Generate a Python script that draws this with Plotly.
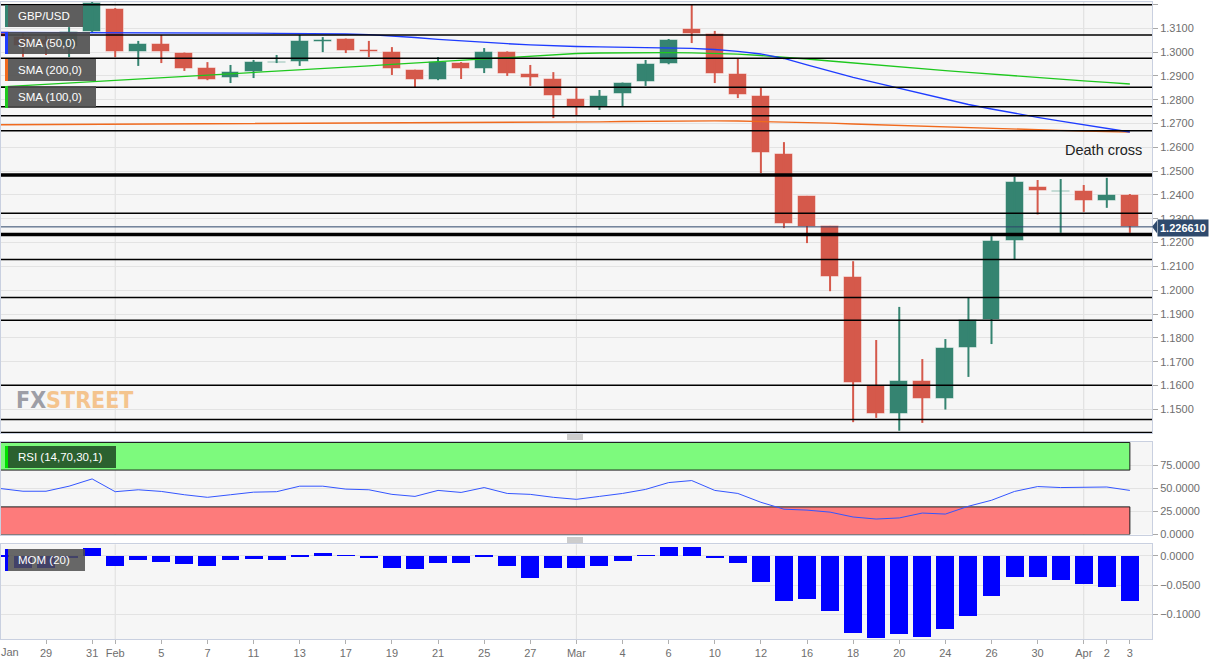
import pandas as pd
import plotly.graph_objects as go
from plotly.subplots import make_subplots

# ---------------- data ----------------
dates = pd.bdate_range("2020-01-27", "2020-04-03")
xi = list(range(len(dates)))

open_ = [1.3085, 1.3063, 1.3051, 1.3021, 1.3084, 1.3181, 1.3000, 1.3034, 1.2996, 1.2933,
         1.2891, 1.2916, 1.2955, 1.2958, 1.3044, 1.3055, 1.3007, 1.3000, 1.2925, 1.2883,
         1.2954, 1.2929, 1.3000, 1.2908, 1.2887, 1.2803, 1.2769, 1.2824, 1.2874, 1.2950,
         1.3097, 1.3076, 1.2908, 1.2816, 1.2571, 1.2395, 1.2269, 1.2055, 1.1598, 1.1482,
         1.1619, 1.1542, 1.1756, 1.1877, 1.2206, 1.2432, 1.2412, 1.2415, 1.2376, 1.2398]
high = [1.3095, 1.3080, 1.3068, 1.3105, 1.3215, 1.3185, 1.3047, 1.3072, 1.2998, 1.2958,
        1.2946, 1.2967, 1.2988, 1.3072, 1.3063, 1.3057, 1.3047, 1.3021, 1.2926, 1.2979,
        1.2958, 1.3017, 1.3003, 1.2946, 1.2916, 1.2849, 1.2841, 1.2872, 1.2967, 1.3055,
        1.3202, 1.3089, 1.2971, 1.2849, 1.2622, 1.2396, 1.2270, 1.2122, 1.1791, 1.1930,
        1.1711, 1.1795, 1.1968, 1.2227, 1.2477, 1.2463, 1.2467, 1.2442, 1.2472, 1.2404]
low = [1.3040, 1.2980, 1.2988, 1.2979, 1.3080, 1.2979, 1.2942, 1.2954, 1.2921, 1.2882,
       1.2870, 1.2891, 1.2954, 1.2942, 1.3000, 1.2996, 1.2979, 1.2904, 1.2853, 1.2882,
       1.2887, 1.2912, 1.2900, 1.2858, 1.2723, 1.2736, 1.2757, 1.2773, 1.2858, 1.2949,
       1.3038, 1.2870, 1.2807, 1.2492, 1.2261, 1.2198, 1.1996, 1.1446, 1.1464, 1.1410,
       1.1443, 1.1499, 1.1636, 1.1774, 1.2131, 1.2318, 1.2241, 1.2329, 1.2346, 1.2241]
close = [1.3064, 1.3026, 1.3030, 1.3084, 1.3205, 1.3000, 1.3034, 1.3000, 1.2929, 1.2883,
         1.2916, 1.2958, 1.2960, 1.3047, 1.3050, 1.3005, 1.3001, 1.2929, 1.2883, 1.2958,
         1.2929, 1.3000, 1.2908, 1.2891, 1.2816, 1.2769, 1.2816, 1.2870, 1.2950, 1.3051,
         1.3076, 1.2908, 1.2820, 1.2576, 1.2277, 1.2265, 1.2055, 1.1610, 1.1482, 1.1619,
         1.1542, 1.1756, 1.1877, 1.2206, 1.2453, 1.2418, 1.2418, 1.2376, 1.2398, 1.22661]

sma50 = [1.30824, 1.30824, 1.30824, 1.30824, 1.30824, 1.30819, 1.30815, 1.30811, 1.30807, 1.30803,
         1.30798, 1.30794, 1.30790, 1.30786, 1.30773, 1.30761, 1.30735, 1.30685, 1.30614, 1.30538,
         1.30467, 1.30404, 1.30353, 1.30307, 1.30265, 1.30236, 1.30219, 1.30210, 1.30202, 1.30190,
         1.30160, 1.30110, 1.30034, 1.29921, 1.29732, 1.29459, 1.29186, 1.28934, 1.28703, 1.28472,
         1.28241, 1.28010, 1.27800, 1.27611, 1.27422, 1.27262, 1.27099, 1.26948, 1.26796, 1.26645]
sma100 = [1.28534, 1.28588, 1.28643, 1.28702, 1.28756, 1.28811, 1.28866, 1.28920, 1.28975, 1.29029,
          1.29084, 1.29139, 1.29193, 1.29248, 1.29307, 1.29366, 1.29424, 1.29483, 1.29542, 1.29601,
          1.29660, 1.29718, 1.29782, 1.29845, 1.29899, 1.29941, 1.29962, 1.29975, 1.29979, 1.29979,
          1.29971, 1.29950, 1.29912, 1.29858, 1.29795, 1.29711, 1.29627, 1.29543, 1.29450, 1.29375,
          1.29299, 1.29224, 1.29148, 1.29072, 1.28997, 1.28930, 1.28862, 1.28795, 1.28728, 1.28661]
sma200 = [1.26948, 1.26952, 1.26956, 1.26960, 1.26964, 1.26968, 1.26973, 1.26977, 1.26981, 1.26985,
          1.26990, 1.26994, 1.26998, 1.27002, 1.27006, 1.27010, 1.27015, 1.27019, 1.27023, 1.27027,
          1.27032, 1.27036, 1.27040, 1.27044, 1.27053, 1.27061, 1.27074, 1.27086, 1.27099, 1.27107,
          1.27116, 1.27116, 1.27107, 1.27090, 1.27069, 1.27044, 1.27015, 1.26981, 1.26948, 1.26914,
          1.26880, 1.26851, 1.26822, 1.26792, 1.26763, 1.26738, 1.26712, 1.26687, 1.26662, 1.26637]

rsi = [50.0, 47.0, 47.0, 52.5, 60.4, 46.5, 48.6, 46.8, 43.2, 40.4,
       43.2, 46.0, 46.5, 52.5, 52.5, 49.3, 48.6, 43.6, 41.4, 47.9,
       45.7, 51.0, 44.6, 43.6, 40.4, 38.2, 41.4, 44.6, 49.0, 56.4,
       58.6, 47.9, 44.6, 35.0, 27.5, 26.5, 24.3, 19.0, 16.8, 18.0,
       23.3, 22.2, 30.7, 37.2, 46.8, 52.1, 51.0, 51.0, 51.6, 47.9]
rsi_upper = 70
rsi_lower = 30

mom = [-0.0010, -0.0220, -0.0220, -0.0040, 0.0133, -0.0170, -0.0080, -0.0110, -0.0140, -0.0170,
       -0.0070, -0.0060, -0.0080, -0.0030, 0.0045, -0.0005, -0.0045, -0.0210, -0.0230, -0.0120,
       -0.0120, -0.0020, -0.0170, -0.0380, -0.0220, -0.0210, -0.0170, -0.0100, -0.0005, 0.0155,
       0.0155, -0.0035, -0.0120, -0.0450, -0.0780, -0.0740, -0.0950, -0.1333, -0.1410, -0.1356,
       -0.1397, -0.1260, -0.1034, -0.0690, -0.0360, -0.0360, -0.0410, -0.0480, -0.0546, -0.0787]

levels_thin = [1.3199, 1.3072, 1.2974, 1.2852, 1.2771, 1.2733, 1.2670, 1.2323,
               1.2129, 1.1970, 1.1874, 1.1601, 1.1457, 1.1403]
levels_thick = [1.2484, 1.2234]

tick_dates = ["2020-01-29", "2020-01-31", "2020-02-03", "2020-02-05", "2020-02-07", "2020-02-11",
              "2020-02-13", "2020-02-17", "2020-02-19", "2020-02-21", "2020-02-25", "2020-02-27",
              "2020-03-02", "2020-03-04", "2020-03-06", "2020-03-10", "2020-03-12", "2020-03-16",
              "2020-03-18", "2020-03-20", "2020-03-24", "2020-03-26", "2020-03-30", "2020-04-01",
              "2020-04-02", "2020-04-03"]
tick_text = ["29", "31", "Feb", "5", "7", "11", "13", "17", "19", "21", "25", "27",
             "Mar", "4", "6", "10", "12", "16", "18", "20", "24", "26", "30", "Apr", "2", "3"]

# ---------------- styling ----------------
GREEN = "#358471"
RED = "#d5594b"
FONT = "Liberation Sans, Arial, sans-serif"
TICKC = "#6e6e6e"
BORDER = "#c9d0e0"
GRID = "#e3e3e3"

W, H = 1229, 665
ML, MR, MT, MB = 1, 77, 2, 26
PW, PH = W - ML - MR, H - MT - MB


def px_x(px):
    return (px - ML) / PW


def px_y(py):
    return (H - MB - py) / PH


fig = make_subplots(rows=3, cols=1, shared_xaxes=True, vertical_spacing=0.01)

# candle wicks
for up, col in ((True, GREEN), (False, RED)):
    wx, wy = [], []
    for i in xi:
        if (close[i] >= open_[i]) == up:
            wx += [i, i, None]
            wy += [low[i], high[i], None]
    fig.add_trace(go.Scatter(x=wx, y=wy, mode="lines", line=dict(color=col, width=2),
                             hoverinfo="skip", showlegend=False), row=1, col=1)

# candle bodies
base = [min(o, c) for o, c in zip(open_, close)]
body = [abs(c - o) for o, c in zip(open_, close)]
cols = [GREEN if c >= o else RED for o, c in zip(open_, close)]
fig.add_trace(go.Bar(x=xi, y=body, base=base, width=0.78,
                     marker=dict(color=cols, line=dict(color="rgba(255,255,255,0.45)", width=1)),
                     showlegend=False), row=1, col=1)

# SMAs
fig.add_trace(go.Scatter(x=xi, y=sma200, mode="lines", line=dict(color="#f06a1e", width=1.3),
                         showlegend=False), row=1, col=1)
fig.add_trace(go.Scatter(x=xi, y=sma100, mode="lines", line=dict(color="#1ec81e", width=1.3),
                         showlegend=False), row=1, col=1)
fig.add_trace(go.Scatter(x=xi, y=sma50, mode="lines", line=dict(color="#1e3cff", width=1.3),
                         showlegend=False), row=1, col=1)

# RSI
fig.add_trace(go.Scatter(x=xi, y=rsi, mode="lines", line=dict(color="#3355ff", width=1),
                         showlegend=False), row=2, col=1)

# MOM
fig.add_trace(go.Bar(x=xi, y=mom, width=0.78, marker=dict(color="#0000ff", line=dict(width=0)),
                     showlegend=False), row=3, col=1)

# ---------------- axes ----------------
xr = [0.048, 49.96]
date_index = {d.strftime("%Y-%m-%d"): i for i, d in enumerate(dates)}
tickvals = [date_index[d] for d in tick_dates]

common_x = dict(range=xr, showgrid=False, zeroline=False, showline=True, linecolor=BORDER,
                mirror=True, linewidth=1)
fig.update_xaxes(**common_x)
fig.update_xaxes(showticklabels=False, ticks="", row=1, col=1)
fig.update_xaxes(showticklabels=False, ticks="", row=2, col=1)
fig.update_xaxes(tickmode="array", tickvals=tickvals, ticktext=tick_text, ticks="outside",
                 ticklen=4, tickcolor="#b0b0b0", tickfont=dict(size=11, color=TICKC, family=FONT),
                 row=3, col=1)

common_y = dict(side="right", showline=True, linecolor=BORDER, mirror=True, linewidth=1,
                zeroline=False, gridcolor=GRID, gridwidth=1, ticks="outside", ticklen=5,
                tickcolor="#a8a8a8", tickfont=dict(size=11, color=TICKC, family=FONT))
fig.update_yaxes(**common_y)
fig.update_yaxes(range=[1.14005, 1.32104], tick0=1.15, dtick=0.01, tickformat=".4f",
                 domain=[px_y(433), 1.0], row=1, col=1)
fig.update_yaxes(range=[0, 100.5], tickvals=[0, 25, 50, 75], tickformat=".4f",
                 domain=[px_y(534.5), px_y(442)], row=2, col=1)
fig.update_yaxes(range=[-0.1429, 0.0201], tickvals=[0, -0.05, -0.1], tickformat=".4f",
                 domain=[0, px_y(544.3)], row=3, col=1)

# ---------------- shapes ----------------
shapes = []
month_starts = [i for i in xi if i > 0 and dates[i].month != dates[i - 1].month]
for xa, ya in (("x", "y"), ("x2", "y2"), ("x3", "y3")):
    for m in month_starts:
        shapes.append(dict(type="line", xref=xa, yref=ya + " domain", x0=m, x1=m, y0=0, y1=1,
                           line=dict(color="#dedede", width=1), layer="below"))

# RSI bands
shapes.append(dict(type="rect", xref="x2", yref="y2", x0=0, x1=xi[-1], y0=rsi_upper, y1=100,
                   fillcolor="#7dfa7d", line=dict(color="#1a1a1a", width=1), layer="between"))
shapes.append(dict(type="rect", xref="x2", yref="y2", x0=0, x1=xi[-1], y0=0, y1=rsi_lower,
                   fillcolor="#fd7b7b", line=dict(color="#1a1a1a", width=1), layer="between"))

# support / resistance levels
for lv in levels_thin:
    shapes.append(dict(type="line", xref="x domain", yref="y", x0=0, x1=1, y0=lv, y1=lv,
                       line=dict(color="black", width=1.5), layer="above"))
for lv in levels_thick:
    shapes.append(dict(type="line", xref="x domain", yref="y", x0=0, x1=1, y0=lv, y1=lv,
                       line=dict(color="black", width=3.5), layer="above"))

# last price line
last = close[-1]
shapes.append(dict(type="line", xref="x domain", yref="y", x0=0, x1=1, y0=last, y1=last,
                   line=dict(color="#2d4669", width=1), layer="above"))
shapes.append(dict(type="path", xref="paper", yref="y",
                   path=f"M {px_x(1152)},{last} L {px_x(1157)},{last + 0.0027} "
                        f"L {px_x(1157)},{last - 0.0027} Z",
                   fillcolor="#2f4a6d", line=dict(width=0), layer="above"))

# legend label boxes
labels = [
    ("GBP/USD", 5, 83, 5, 27, "rgba(78,78,78,0.9)", GREEN),
    ("SMA (50,0)", 5, 90, 32, 54, "rgba(78,78,78,0.9)", "#1e3cff"),
    ("SMA (200,0)", 5, 96, 59, 81, "rgba(78,78,78,0.9)", "#f06a1e"),
    ("SMA (100,0)", 5, 96, 86, 108, "rgba(78,78,78,0.9)", "#1ec81e"),
    ("RSI (14,70,30,1)", 5, 116, 446, 468, "rgba(40,92,44,0.97)", "#00e000"),
    ("MOM (20)", 5, 85, 549, 571, "rgba(78,78,78,0.85)", "#0000ff"),
]
annotations = []
for txt, x0, x1, y0, y1, bg, bar in labels:
    shapes.append(dict(type="rect", xref="paper", yref="paper", x0=px_x(x0), x1=px_x(x1),
                       y0=px_y(y1), y1=px_y(y0), fillcolor=bg, line=dict(width=0), layer="above"))
    shapes.append(dict(type="rect", xref="paper", yref="paper", x0=px_x(x0), x1=px_x(x0 + 3),
                       y0=px_y(y1), y1=px_y(y0), fillcolor=bar, line=dict(width=0), layer="above"))
    annotations.append(dict(xref="paper", yref="paper", x=px_x(16), y=px_y((y0 + y1) / 2),
                            xanchor="left", yanchor="middle", text=txt, showarrow=False,
                            font=dict(size=11.5, color="white", family=FONT)))

# panel separator handles
for py in (437, 540):
    for d in (-2, 0, 2):
        shapes.append(dict(type="line", xref="paper", yref="paper", x0=px_x(567), x1=px_x(583),
                           y0=px_y(py + d), y1=px_y(py + d), line=dict(color="#9a9a9a", width=1)))

# text annotations
annotations.append(dict(xref="paper", yref="paper", x=px_x(1157), y=px_y(228.3),
                        xanchor="left", yanchor="middle", text=f"<b>{last:.6f}</b>",
                        showarrow=False, bgcolor="#2f4a6d", borderpad=2,
                        font=dict(size=11, color="white", family=FONT)))
annotations.append(dict(xref="x", yref="y", x=47.85, y=1.2589, text="Death cross",
                        showarrow=False, xanchor="center", yanchor="middle",
                        font=dict(size=14.5, color="#222222", family=FONT)))
annotations.append(dict(xref="paper", yref="paper", x=px_x(14), y=px_y(400), xanchor="left",
                        yanchor="middle", showarrow=False,
                        text="<b><span style='color:#9d9ea6'>FX</span>"
                             "<span style='color:#f4c48e'>STREET</span></b>",
                        font=dict(size=23, family="Liberation Sans Narrow, DejaVu Sans Condensed, "
                                                     "Arial Narrow, Liberation Sans, sans-serif")))
annotations.append(dict(xref="paper", yref="paper", x=0, y=px_y(652), xanchor="left",
                        yanchor="middle", xshift=-2, showarrow=False, text="Jan",
                        font=dict(size=11, color=TICKC, family=FONT)))

fig.update_layout(
    width=W, height=H, margin=dict(l=ML, r=MR, t=MT, b=MB),
    paper_bgcolor="white", plot_bgcolor="#f6f6f6",
    showlegend=False, barmode="overlay", bargap=0,
    font=dict(family=FONT, color=TICKC),
    shapes=shapes, annotations=annotations,
    hovermode=False,
)

fig.write_html("out.html", config={"displayModeBar": False},
               post_script="document.body.style.margin='0';document.body.style.padding='0';")
